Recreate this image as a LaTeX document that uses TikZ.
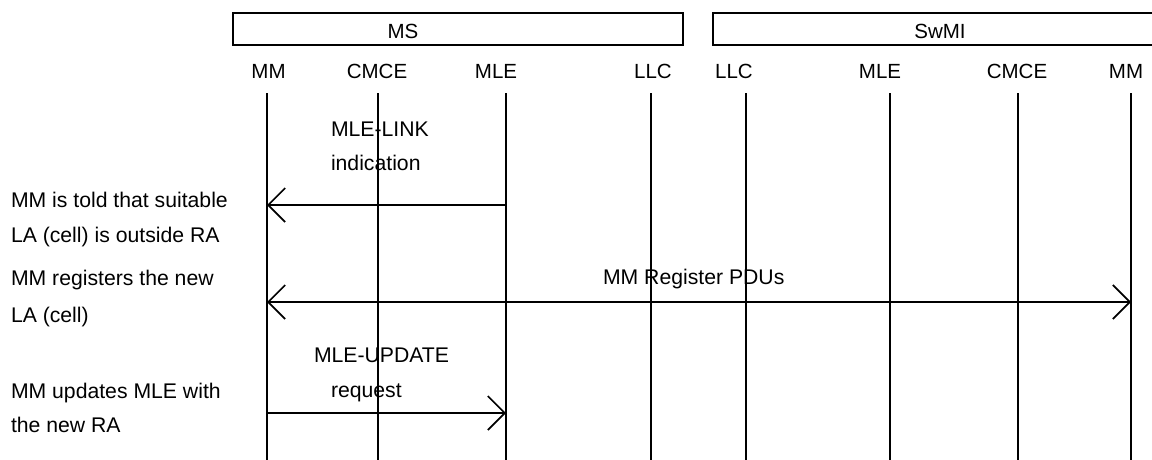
\documentclass[tikz,border=0pt]{standalone}
\usepackage{fontspec}
\setmainfont{Liberation Sans}
\usetikzlibrary{arrows.meta}
\begin{document}
\begin{tikzpicture}[x=1pt,y=-1pt,
  every node/.style={inner sep=0pt,outer sep=0pt,font=\fontsize{20.5}{24}\selectfont},
  groupbox/.style={draw,line width=1.8pt},
  lifeline/.style={line width=1.7pt},
  msg/.style={line width=1.7pt,-{Straight Barb[length=17pt,width=34pt]}},
  msgboth/.style={line width=1.7pt,{Straight Barb[length=17pt,width=34pt]}-{Straight Barb[length=17pt,width=34pt]}},
  head/.style={anchor=base},
  note/.style={anchor=base west,font=\fontsize{21.2}{25}\selectfont}]
\useasboundingbox (0,0) rectangle (1152,459);
% group boxes
\node[groupbox,anchor=north west,minimum width=450pt,minimum height=32pt] (msbox) at (233,13) {};
\node[groupbox,anchor=north west,minimum width=445pt,minimum height=32pt] (swbox) at (713,13) {};
\node[head] (mstxt) at (403,38.3) {MS};
\node[head] (swtxt) at (940,38.3) {SwMI};
% lifeline heads
\node[head] (h1) at (268.5,78.3) {MM};
\node[head] (h2) at (377,78.3) {CMCE};
\node[head] (h3) at (496,78.3) {MLE};
\node[head] (h4) at (653,78.3) {LLC};
\node[head] (h5) at (734,78.3) {LLC};
\node[head] (h6) at (880,78.3) {MLE};
\node[head] (h7) at (1017,78.3) {CMCE};
\node[head] (h8) at (1126,78.3) {MM};
% lifelines
\foreach \n/\x in {1/267,2/378,3/506,4/651,5/746,6/890,7/1018,8/1131}{
  \coordinate (t\n) at (\x,93);
  \coordinate (b\n) at (\x,460);
  \draw[lifeline] (t\n) -- (b\n);
}
% message endpoints
\coordinate (m1a) at (506,205);
\coordinate (m1b) at (267,205);
\coordinate (m2a) at (267,302);
\coordinate (m2b) at (1131,302);
\coordinate (m3a) at (267,413);
\coordinate (m3b) at (506,413);
\draw[msg] (m1a) -- (m1b);
\draw[msgboth] (m2a) -- (m2b);
\draw[msg] (m3a) -- (m3b);
% message labels
\node[note] (l1a) at (331,136.5) {MLE-LINK};
\node[note] (l1b) at (331,170.5) {indication};
\node[note] (l2) at (603,284.5) {MM Register PDUs};
\node[note] (l3a) at (314,362.5) {MLE-UPDATE};
\node[note] (l3b) at (331,397.5) {request};
% side notes
\node[note] (n1a) at (11,207) {MM is told that suitable};
\node[note] (n1b) at (11,242) {LA (cell) is outside RA};
\node[note] (n2a) at (11,285.5) {MM registers the new};
\node[note] (n2b) at (11,322) {LA (cell)};
\node[note] (n3a) at (11,398) {MM updates MLE with};
\node[note] (n3b) at (11,432) {the new RA};
\end{tikzpicture}
\end{document}
